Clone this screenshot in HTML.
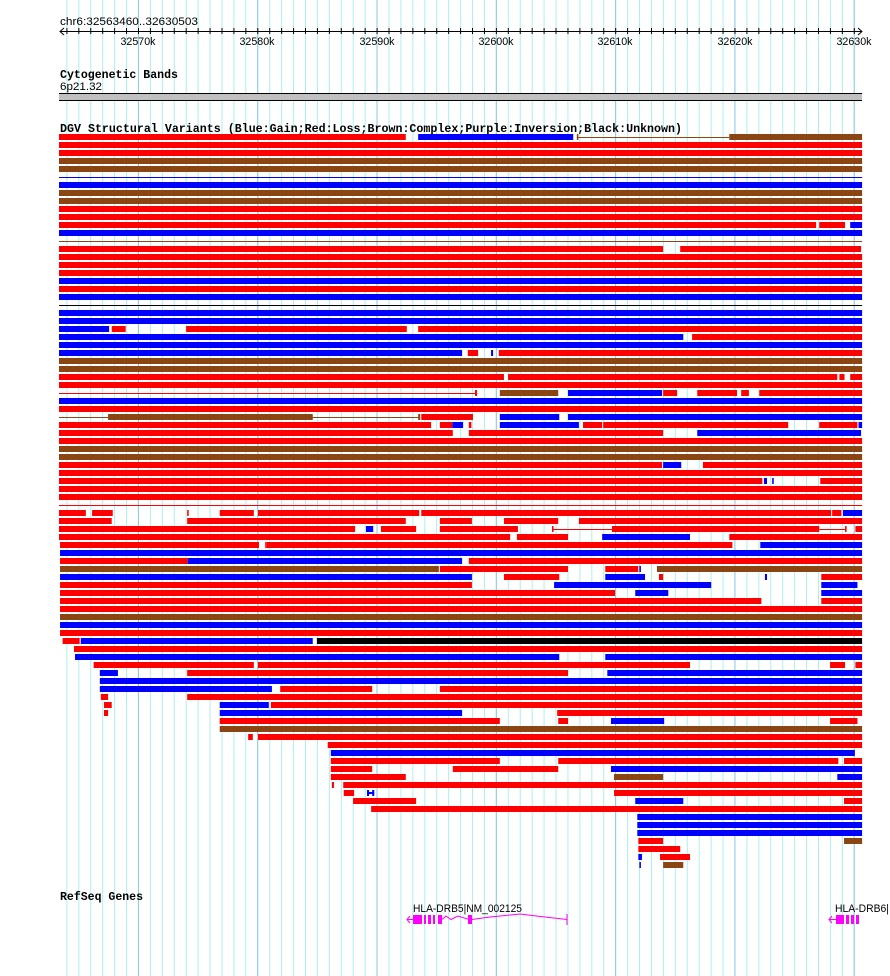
<!DOCTYPE html>
<html><head><meta charset="utf-8"><style>
html,body{margin:0;padding:0;background:#fff;}
svg{display:block;}
.t{font-family:"Liberation Mono",monospace;font-weight:bold;font-size:11.5px;fill:#000;}
.s{font-family:"Liberation Sans",sans-serif;font-size:11px;fill:#000;}
</style></head><body>
<svg width="890" height="976" viewBox="0 0 890 976" xmlns="http://www.w3.org/2000/svg">
<defs>
<pattern id="g1" patternUnits="userSpaceOnUse" x="66.4" y="0" width="11.93" height="976"><rect x="0" y="0" width="1" height="976" fill="#aeeef0"/></pattern>
<pattern id="g2" patternUnits="userSpaceOnUse" x="137.9" y="0" width="119.3" height="976"><rect x="0" y="0" width="1" height="976" fill="#8cc8e4"/></pattern>
<pattern id="tk" patternUnits="userSpaceOnUse" x="66.4" y="0" width="11.93" height="976"><rect x="0" y="28" width="1" height="6" fill="#000"/></pattern>
</defs>
<rect x="0" y="0" width="890" height="976" fill="#fff"/>
<rect x="60" y="0" width="802" height="976" fill="url(#g1)"/>
<rect x="60" y="0" width="802" height="976" fill="url(#g2)"/>
<!-- ruler -->
<text class="s" x="60" y="25" textLength="138" lengthAdjust="spacingAndGlyphs">chr6:32563460..32630503</text>
<rect x="60" y="31" width="802" height="1" fill="#000"/>
<rect x="60" y="0" width="802" height="976" fill="url(#tk)"/>
<path d="M64,28 L60,31.5 L64,35 M858,28 L862,31.5 L858,35" stroke="#000" fill="none" stroke-width="1"/>
<g class="s" text-anchor="middle">
<text x="138" y="45" textLength="35" lengthAdjust="spacingAndGlyphs">32570k</text>
<text x="257" y="45" textLength="35" lengthAdjust="spacingAndGlyphs">32580k</text>
<text x="377" y="45" textLength="35" lengthAdjust="spacingAndGlyphs">32590k</text>
<text x="496" y="45" textLength="35" lengthAdjust="spacingAndGlyphs">32600k</text>
<text x="615" y="45" textLength="35" lengthAdjust="spacingAndGlyphs">32610k</text>
<text x="735" y="45" textLength="35" lengthAdjust="spacingAndGlyphs">32620k</text>
<text x="854" y="45" textLength="35" lengthAdjust="spacingAndGlyphs">32630k</text>
</g>
<!-- cyto -->
<text class="t" x="60" y="78" textLength="118" lengthAdjust="spacingAndGlyphs">Cytogenetic Bands</text>
<text class="s" x="60" y="90" textLength="42" lengthAdjust="spacingAndGlyphs">6p21.32</text>
<rect x="59" y="93" width="803" height="7" fill="#c0c0c0"/>
<rect x="59" y="93" width="803" height="1" fill="#000"/>
<rect x="59" y="100" width="803" height="1" fill="#000"/>
<text class="t" x="60" y="132" textLength="622" lengthAdjust="spacingAndGlyphs">DGV Structural Variants (Blue:Gain;Red:Loss;Brown:Complex;Purple:Inversion;Black:Unknown)</text>
<g transform="translate(59,0) scale(0.5168,1) translate(-8,0)">
<g fill="#ff0000">
<rect x="8" y="134" width="671" height="6"/>
<rect x="8" y="142" width="1554" height="6"/>
<rect x="8" y="150" width="1554" height="6"/>
<rect x="8" y="206" width="1554" height="6"/>
<rect x="8" y="214" width="1554" height="6"/>
<rect x="8" y="222" width="1465" height="6"/><rect x="1479" y="222" width="50" height="6"/>
<rect x="8" y="246" width="1169" height="6"/><rect x="1210" y="246" width="350" height="6"/>
<rect x="8" y="254" width="1554" height="6"/>
<rect x="8" y="262" width="1554" height="6"/>
<rect x="8" y="270" width="1554" height="6"/>
<rect x="8" y="286" width="1554" height="6"/>
<rect x="110" y="326" width="27" height="6"/><rect x="254" y="326" width="427" height="6"/><rect x="703" y="326" width="859" height="6"/>
<rect x="1233" y="334" width="329" height="6"/>
<rect x="799" y="350" width="20" height="6"/><rect x="859" y="350" width="703" height="6"/>
<rect x="8" y="374" width="861" height="6"/><rect x="877" y="374" width="637" height="6"/><rect x="1518" y="374" width="10" height="6"/><rect x="1539" y="374" width="23" height="6"/>
<rect x="8" y="382" width="1554" height="6"/>
<rect x="8" y="393" width="805" height="1"/><rect x="813" y="390" width="4" height="6"/><rect x="1177" y="390" width="27" height="6"/><rect x="1243" y="390" width="77" height="6"/><rect x="1328" y="390" width="15" height="6"/><rect x="1363" y="390" width="199" height="6"/>
<rect x="8" y="406" width="1554" height="6"/>
<rect x="709" y="414" width="100" height="6"/>
<rect x="8" y="422" width="720" height="6"/><rect x="745" y="422" width="24" height="6"/><rect x="801" y="422" width="5" height="6"/><rect x="1022" y="422" width="37" height="6"/><rect x="1061" y="422" width="358" height="6"/><rect x="1479" y="422" width="74" height="6"/>
<rect x="8" y="430" width="762" height="6"/><rect x="801" y="430" width="376" height="6"/>
<rect x="8" y="438" width="1554" height="6"/>
<rect x="8" y="462" width="1167" height="6"/><rect x="1254" y="462" width="308" height="6"/>
<rect x="8" y="470" width="1554" height="6"/>
<rect x="8" y="478" width="1361" height="6"/><rect x="1481" y="478" width="81" height="6"/>
<rect x="8" y="486" width="1554" height="6"/>
<rect x="8" y="494" width="1554" height="6"/>
<rect x="8" y="505" width="1554" height="1"/>
<rect x="8" y="510" width="52" height="6"/><rect x="72" y="510" width="40" height="6"/><rect x="256" y="510" width="3" height="6"/><rect x="319" y="510" width="66" height="6"/><rect x="393" y="510" width="312" height="6"/><rect x="709" y="510" width="793" height="6"/><rect x="1504" y="510" width="18" height="6"/>
<rect x="8" y="518" width="102" height="6"/><rect x="256" y="518" width="423" height="6"/><rect x="745" y="518" width="62" height="6"/><rect x="869" y="518" width="105" height="6"/><rect x="1014" y="518" width="548" height="6"/>
<rect x="8" y="526" width="573" height="6"/><rect x="631" y="526" width="68" height="6"/><rect x="745" y="526" width="151" height="6"/><rect x="962" y="529" width="116" height="1"/><rect x="962" y="526" width="3" height="6"/><rect x="1078" y="526" width="401" height="6"/><rect x="1479" y="529" width="52" height="1"/><rect x="1529" y="526" width="3" height="6"/><rect x="1549" y="526" width="13" height="6"/>
<rect x="8" y="534" width="873" height="6"/><rect x="894" y="534" width="99" height="6"/><rect x="1305" y="534" width="257" height="6"/>
<rect x="10" y="542" width="385" height="6"/><rect x="407" y="542" width="3" height="6"/><rect x="410" y="542" width="901" height="6"/>
<rect x="10" y="558" width="247" height="6"/><rect x="801" y="558" width="761" height="6"/>
<rect x="745" y="566" width="248" height="6"/><rect x="1065" y="566" width="64" height="6"/>
<rect x="869" y="574" width="107" height="6"/><rect x="1169" y="574" width="8" height="6"/><rect x="1483" y="574" width="79" height="6"/>
<rect x="10" y="582" width="797" height="6"/>
<rect x="10" y="590" width="1074" height="6"/>
<rect x="10" y="598" width="1357" height="6"/><rect x="1483" y="598" width="79" height="6"/>
<rect x="10" y="606" width="1552" height="6"/>
<rect x="10" y="630" width="1552" height="6"/>
<rect x="15" y="638" width="33" height="6"/>
<rect x="37" y="646" width="1525" height="6"/>
<rect x="75" y="662" width="310" height="6"/><rect x="393" y="662" width="836" height="6"/><rect x="1500" y="662" width="29" height="6"/><rect x="1549" y="662" width="13" height="6"/>
<rect x="256" y="670" width="737" height="6"/>
<rect x="436" y="686" width="178" height="6"/><rect x="745" y="686" width="817" height="6"/>
<rect x="89" y="694" width="14" height="6"/><rect x="256" y="694" width="1306" height="6"/>
<rect x="95" y="702" width="15" height="6"/><rect x="418" y="702" width="1144" height="6"/>
<rect x="95" y="710" width="8" height="6"/><rect x="972" y="710" width="590" height="6"/>
<rect x="319" y="718" width="542" height="6"/><rect x="974" y="718" width="19" height="6"/><rect x="1500" y="718" width="53" height="6"/>
<rect x="374" y="734" width="9" height="6"/><rect x="393" y="734" width="1169" height="6"/>
<rect x="528" y="742" width="1034" height="6"/>
<rect x="534" y="758" width="327" height="6"/><rect x="974" y="758" width="542" height="6"/><rect x="1527" y="758" width="35" height="6"/>
<rect x="534" y="766" width="80" height="6"/><rect x="770" y="766" width="204" height="6"/>
<rect x="534" y="774" width="145" height="6"/>
<rect x="536" y="782" width="4" height="6"/><rect x="558" y="782" width="1004" height="6"/>
<rect x="559" y="790" width="20" height="6"/><rect x="1082" y="790" width="480" height="6"/>
<rect x="577" y="798" width="122" height="6"/><rect x="1527" y="798" width="35" height="6"/>
<rect x="612" y="806" width="950" height="6"/>
<rect x="1129" y="838" width="48" height="6"/>
<rect x="1129" y="846" width="81" height="6"/>
<rect x="1171" y="854" width="58" height="6"/>
</g>
<g fill="#0000ff">
<rect x="703" y="134" width="300" height="6"/>
<rect x="8" y="177" width="1554" height="1"/>
<rect x="8" y="182" width="1554" height="6"/>
<rect x="1539" y="222" width="23" height="6"/>
<rect x="8" y="230" width="1554" height="6"/>
<rect x="8" y="278" width="1554" height="6"/>
<rect x="8" y="294" width="1554" height="6"/>
<rect x="8" y="310" width="1554" height="6"/>
<rect x="8" y="318" width="1554" height="6"/>
<rect x="8" y="326" width="97" height="6"/>
<rect x="8" y="334" width="1208" height="6"/>
<rect x="8" y="342" width="1554" height="6"/>
<rect x="8" y="350" width="780" height="6"/><rect x="844" y="350" width="4" height="6"/>
<rect x="993" y="390" width="182" height="6"/>
<rect x="8" y="398" width="1554" height="6"/>
<rect x="861" y="414" width="115" height="6"/><rect x="993" y="414" width="569" height="6"/>
<rect x="769" y="422" width="21" height="6"/><rect x="861" y="422" width="153" height="6"/><rect x="1555" y="422" width="7" height="6"/>
<rect x="1243" y="430" width="317" height="6"/>
<rect x="1177" y="462" width="35" height="6"/>
<rect x="1372" y="478" width="6" height="6"/><rect x="1388" y="478" width="3" height="6"/>
<rect x="1525" y="510" width="37" height="6"/>
<rect x="602" y="526" width="14" height="6"/>
<rect x="1059" y="534" width="170" height="6"/>
<rect x="1365" y="542" width="197" height="6"/>
<rect x="10" y="550" width="1552" height="6"/>
<rect x="257" y="558" width="531" height="6"/>
<rect x="1131" y="566" width="3" height="6"/>
<rect x="10" y="574" width="797" height="6"/><rect x="1065" y="574" width="77" height="6"/><rect x="1374" y="574" width="4" height="6"/>
<rect x="966" y="582" width="304" height="6"/><rect x="1483" y="582" width="70" height="6"/>
<rect x="1123" y="590" width="64" height="6"/><rect x="1483" y="590" width="79" height="6"/>
<rect x="10" y="622" width="1552" height="6"/>
<rect x="50" y="638" width="449" height="6"/>
<rect x="39" y="654" width="937" height="6"/><rect x="1065" y="654" width="497" height="6"/>
<rect x="87" y="670" width="35" height="6"/><rect x="1069" y="670" width="493" height="6"/>
<rect x="87" y="678" width="1475" height="6"/>
<rect x="87" y="686" width="333" height="6"/>
<rect x="319" y="702" width="95" height="6"/>
<rect x="319" y="710" width="469" height="6"/>
<rect x="1076" y="718" width="103" height="6"/>
<rect x="534" y="750" width="1014" height="6"/>
<rect x="1076" y="766" width="486" height="6"/>
<rect x="1514" y="774" width="48" height="6"/>
<rect x="604" y="790" width="4" height="6"/><rect x="614" y="790" width="4" height="6"/><rect x="604" y="792" width="14" height="2"/>
<rect x="1123" y="798" width="93" height="6"/>
<rect x="1127" y="814" width="435" height="6"/>
<rect x="1127" y="822" width="435" height="6"/>
<rect x="1127" y="830" width="435" height="6"/>
<rect x="1129" y="854" width="7" height="6"/>
<rect x="1131" y="862" width="3" height="6"/>
</g>
<g fill="#8b4513">
<rect x="1010" y="137" width="295" height="1"/><rect x="1010" y="134" width="3" height="6"/><rect x="1305" y="134" width="257" height="6"/>
<rect x="8" y="158" width="1554" height="6"/>
<rect x="8" y="166" width="1554" height="6"/>
<rect x="8" y="190" width="1554" height="6"/>
<rect x="8" y="198" width="1554" height="6"/>
<rect x="8" y="241" width="1554" height="1"/>
<rect x="8" y="358" width="1554" height="6"/>
<rect x="8" y="366" width="1554" height="6"/>
<rect x="861" y="390" width="113" height="6"/>
<rect x="8" y="417" width="697" height="1"/><rect x="103" y="414" width="396" height="6"/><rect x="703" y="414" width="4" height="6"/>
<rect x="8" y="446" width="1554" height="6"/>
<rect x="8" y="454" width="1554" height="6"/>
<rect x="10" y="566" width="733" height="6"/><rect x="1165" y="566" width="397" height="6"/>
<rect x="10" y="614" width="1552" height="6"/>
<rect x="319" y="726" width="1243" height="6"/>
<rect x="1082" y="774" width="95" height="6"/>
<rect x="1527" y="838" width="35" height="6"/>
<rect x="1177" y="862" width="39" height="6"/>
</g>
<g fill="#000">
<rect x="8" y="305" width="1554" height="1"/>
<rect x="507" y="638" width="1055" height="6"/>
</g>
</g>
<!-- RefSeq -->
<text class="t" x="60" y="900" textLength="83" lengthAdjust="spacingAndGlyphs">RefSeq Genes</text>
<text class="s" x="413" y="912" textLength="109" lengthAdjust="spacingAndGlyphs">HLA-DRB5|NM_002125</text>
<text class="s" x="835" y="912" textLength="54" lengthAdjust="spacingAndGlyphs">HLA-DRB6|</text>
<g stroke="#ff00ff" fill="none" stroke-width="1">
<path d="M407,919.5 L413,919.5 M410,916 L407,919.5 L410,923"/>
<path d="M442,919.5 L446,916 L451,919.5 L458,916 L469,919.5 L472,919.5 L490,917 L520,914 L545,917 L567,919.5"/>
<path d="M567,914 L567,925"/>
<path d="M829,919.5 L836,919.5 M832,916 L829,919.5 L832,923"/>
</g>
<g fill="#ff00ff">
<rect x="413" y="915" width="9" height="9"/><rect x="424" y="915" width="2" height="9"/>
<rect x="428" y="915" width="3" height="9"/><rect x="433" y="915" width="2" height="9"/>
<rect x="438" y="915" width="4" height="9"/>
<rect x="468" y="915" width="4" height="9"/>
<rect x="836" y="915" width="8" height="9"/><rect x="846" y="915" width="3" height="9"/><rect x="851" y="915" width="3" height="9"/><rect x="856" y="915" width="3" height="9"/>
</g>
</svg>
</body></html>
